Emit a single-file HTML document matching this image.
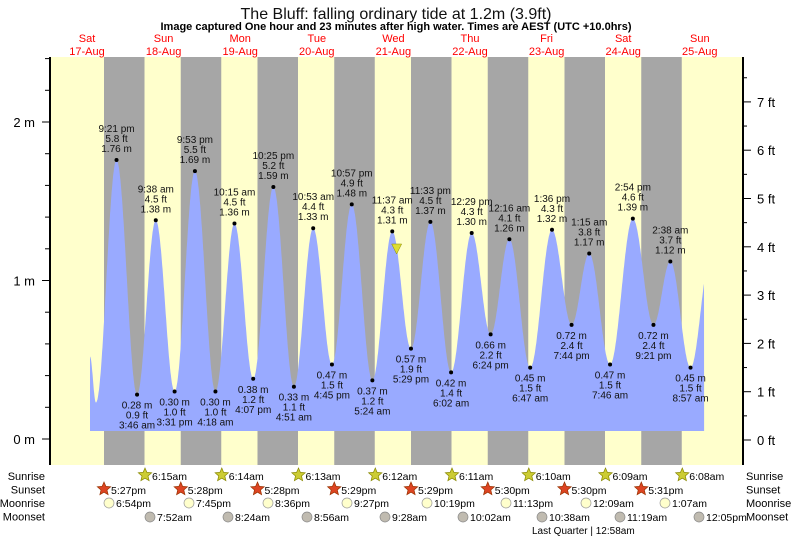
<!DOCTYPE html>
<html><head><meta charset="utf-8"><style>
html,body{margin:0;padding:0;background:#fff;}
svg{display:block;font-family:"Liberation Sans",sans-serif;}
</style></head><body>
<svg id="s" width="793" height="539" xmlns="http://www.w3.org/2000/svg"></svg>
<script>
const S=document.getElementById('s');let o='';
const X=t=>125+t*3.196, Y=h=>439-158.5*h;
o+='<rect x="50" y="57" width="693" height="408" fill="#ffffcc"/>';
for(let i=0;i<8;i++){const a=104+i*76.75;o+=`<rect x="${a}" y="57" width="40.5" height="408" fill="#a6a6a6"/>`;}
const E=[[-10.95,0.52],[-9.1,0.23],[-2.65,1.76],[3.77,0.28],[9.63,1.38],[15.52,0.30],[21.88,1.69],[28.3,0.30],[34.25,1.36],[40.12,0.38],[46.42,1.59],[52.85,0.33],[58.88,1.33],[64.75,0.47],[70.95,1.48],[77.4,0.37],[83.62,1.31],[89.48,0.57],[95.55,1.37],[102.03,0.42],[108.48,1.30],[114.4,0.66],[120.27,1.26],[126.78,0.45],[133.6,1.32],[139.73,0.72],[145.25,1.17],[151.77,0.47],[158.9,1.39],[165.35,0.72],[170.63,1.12],[176.95,0.45],[183.2,1.15]];
let p=`M${X(-10.95)},431 `;
for(let t=-10.95;t<=181.2;t+=0.1){let i=0;while(E[i+1][0]<t)i++;const[a,ha]=E[i],[b,hb]=E[i+1];let f=(t-a)/(b-a);if(i==0)f=Math.max(0,f);const h=ha+(hb-ha)*(1-Math.cos(Math.PI*f))/2;p+=`L${X(t).toFixed(1)},${Y(h).toFixed(1)} `;}
p+=`L${X(181.2)},431Z`;
o+=`<path d="${p}" fill="#99aaff"/>`;
const L=[[-2.65,1.76,'9:21 pm','5.8 ft'],[3.77,0.28,'3:46 am','0.9 ft'],[9.63,1.38,'9:38 am','4.5 ft'],[15.52,0.30,'3:31 pm','1.0 ft'],[21.88,1.69,'9:53 pm','5.5 ft'],[28.3,0.30,'4:18 am','1.0 ft'],[34.25,1.36,'10:15 am','4.5 ft'],[40.12,0.38,'4:07 pm','1.2 ft'],[46.42,1.59,'10:25 pm','5.2 ft'],[52.85,0.33,'4:51 am','1.1 ft'],[58.88,1.33,'10:53 am','4.4 ft'],[64.75,0.47,'4:45 pm','1.5 ft'],[70.95,1.48,'10:57 pm','4.9 ft'],[77.4,0.37,'5:24 am','1.2 ft'],[83.62,1.31,'11:37 am','4.3 ft'],[89.48,0.57,'5:29 pm','1.9 ft'],[95.55,1.37,'11:33 pm','4.5 ft'],[102.03,0.42,'6:02 am','1.4 ft'],[108.48,1.30,'12:29 pm','4.3 ft'],[114.4,0.66,'6:24 pm','2.2 ft'],[120.27,1.26,'12:16 am','4.1 ft'],[126.78,0.45,'6:47 am','1.5 ft'],[133.6,1.32,'1:36 pm','4.3 ft'],[139.73,0.72,'7:44 pm','2.4 ft'],[145.25,1.17,'1:15 am','3.8 ft'],[151.77,0.47,'7:46 am','1.5 ft'],[158.9,1.39,'2:54 pm','4.6 ft'],[165.35,0.72,'9:21 pm','2.4 ft'],[170.63,1.12,'2:38 am','3.7 ft'],[176.95,0.45,'8:57 am','1.5 ft']];
L.forEach((e,i)=>{const x=X(e[0]),y=Y(e[1]);o+=`<circle cx="${x}" cy="${y}" r="2" fill="#000"/>`;const m=e[1].toFixed(2)+' m';
const hi=i%2==0;const ls=hi?[e[2],e[3],m]:[m,e[3],e[2]];const y0=hi?y-28:y+14;
ls.forEach((s,k)=>o+=`<text x="${x}" y="${y0+k*10}" font-size="10" text-anchor="middle" fill="#111">${s}</text>`);});
o+=`<polygon points="${X(85)-5},244 ${X(85)+5},244 ${X(85)},254" fill="#dddd33" stroke="#888800" stroke-width="0.5"/>`;
o+='<line x1="50" y1="57" x2="50" y2="465" stroke="#000" stroke-width="2"/><line x1="743" y1="57" x2="743" y2="465" stroke="#000" stroke-width="2"/>';
for(let h=0;h<=2.4;h+=0.2){const y=Y(h);o+=`<line x1="${Math.abs(h-Math.round(h))<.01?42:45}" y1="${y}" x2="50" y2="${y}" stroke="#000"/>`;}
[[2,'2 m'],[1,'1 m'],[0,'0 m']].forEach(a=>o+=`<text x="35" y="${Y(a[0])+5}" font-size="13" text-anchor="end">${a[1]}</text>`);
for(let f=0;f<=7.5;f+=0.5){const y=440-48.3*f;o+=`<line x1="743" y1="${y}" x2="${f%1==0?751:747}" y2="${y}" stroke="#000"/>`;if(f%1==0)o+=`<text x="757" y="${y+5}" font-size="13">${f} ft</text>`;}
o+='<text x="396" y="19" font-size="16" text-anchor="middle" fill="#111">The Bluff: falling  ordinary tide at 1.2m (3.9ft)</text>';
o+='<text x="396" y="30" font-size="11" font-weight="bold" text-anchor="middle">Image captured One hour and 23 minutes after high water. Times are AEST (UTC +10.0hrs)</text>';
const D=[['Sat','17-Aug'],['Sun','18-Aug'],['Mon','19-Aug'],['Tue','20-Aug'],['Wed','21-Aug'],['Thu','22-Aug'],['Fri','23-Aug'],['Sat','24-Aug'],['Sun','25-Aug']];
D.forEach((d,i)=>{const x=87+i*76.6;o+=`<text x="${x}" y="42" font-size="11" fill="red" text-anchor="middle">${d[0]}</text><text x="${x}" y="55" font-size="11" fill="red" text-anchor="middle">${d[1]}</text>`;});
['Sunrise','Sunset','Moonrise','Moonset'].forEach((n,i)=>{const y=480+i*13.5;o+=`<text x="45" y="${y}" font-size="11" text-anchor="end">${n}</text><text x="746" y="${y}" font-size="11">${n}</text>`;});
function star(cx,cy,fill,st){let p='';for(let k=0;k<10;k++){const r=k%2?3.2:7,a=-Math.PI/2+k*Math.PI/5;p+=`${(cx+r*Math.cos(a)).toFixed(1)},${(cy+r*Math.sin(a)).toFixed(1)} `;}return `<polygon points="${p}" fill="${fill}" stroke="${st}" stroke-width="0.7"/>`;}
const sr=['6:15am','6:14am','6:13am','6:12am','6:11am','6:10am','6:09am','6:08am'];
sr.forEach((s,i)=>{const x=145+i*76.75;o+=star(x,475,'#cccc33','#888800')+`<text x="${x+7}" y="480" font-size="10.5">${s}</text>`;});
const ss=['5:27pm','5:28pm','5:28pm','5:29pm','5:29pm','5:30pm','5:30pm','5:31pm'];
ss.forEach((s,i)=>{const x=104+i*76.75;o+=star(x,489,'#dd4422','#993300')+`<text x="${x+7}" y="494" font-size="10.5">${s}</text>`;});
const mr=[[109,'6:54pm'],[189,'7:45pm'],[268,'8:36pm'],[347,'9:27pm'],[427,'10:19pm'],[506,'11:13pm'],[586,'12:09am'],[665,'1:07am']];
mr.forEach(m=>o+=`<circle cx="${m[0]}" cy="503" r="5" fill="#ffffcc" stroke="#999" stroke-width="0.7"/><text x="${m[0]+7}" y="507" font-size="10.5">${m[1]}</text>`);
const ms=[[150,'7:52am'],[228,'8:24am'],[307,'8:56am'],[385,'9:28am'],[463,'10:02am'],[542,'10:38am'],[620,'11:19am'],[699,'12:05pm']];
ms.forEach(m=>o+=`<circle cx="${m[0]}" cy="517" r="5" fill="#c0bbb0" stroke="#888" stroke-width="0.7"/><text x="${m[0]+7}" y="521" font-size="10.5">${m[1]}</text>`);
o+='<text x="532" y="534" font-size="10">Last Quarter | 12:58am</text>';
S.innerHTML=o;
</script>
</body></html>
